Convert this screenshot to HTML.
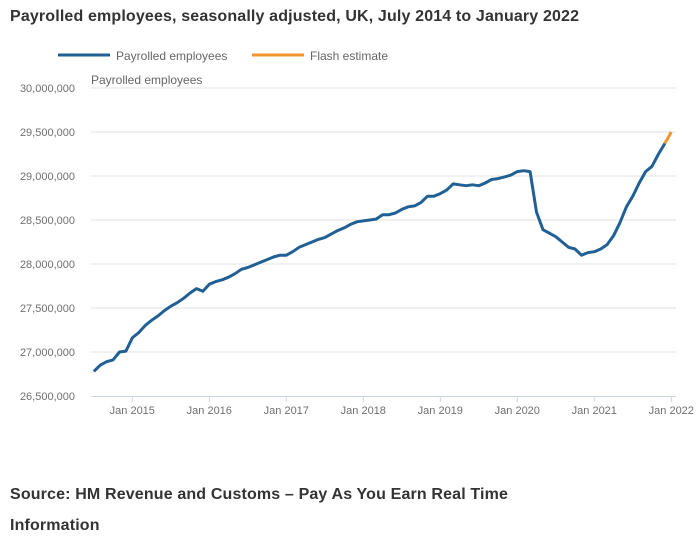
<!DOCTYPE html>
<html><head><meta charset="utf-8"><style>
body{margin:0;background:#fff;font-family:"Liberation Sans",sans-serif;}
#wrap{position:relative;width:696px;height:546px;overflow:hidden}
.t{position:absolute;color:#333;font-weight:bold;font-size:16px;letter-spacing:0.15px}
</style></head><body><div id="wrap">
<div class="t" style="left:10px;top:8px">Payrolled employees, seasonally adjusted, UK, July 2014 to January 2022</div>
<svg id="svg" width="696" height="546" style="position:absolute;left:0;top:0"></svg>
<div class="t" style="left:10px;top:486px">Source: HM Revenue and Customs – Pay As You Earn Real Time</div>
<div class="t" style="left:10px;top:517px">Information</div>
</div>
<script>
const yTicks=[26500000,27000000,27500000,28000000,28500000,29000000,29500000,30000000];
const xTickLabels=["Jan 2015","Jan 2016","Jan 2017","Jan 2018","Jan 2019","Jan 2020","Jan 2021","Jan 2022"];
const xTickMonths=[6,18,30,42,54,66,78,90];
const payrolled=[26.78,26.85,26.89,26.91,27.00,27.01,
27.16,27.22,27.30,27.36,27.41,27.47,27.52,27.56,27.61,27.67,27.72,27.69,
27.77,27.80,27.82,27.85,27.89,27.94,27.96,27.99,28.02,28.05,28.08,28.10,
28.10,28.14,28.19,28.22,28.25,28.28,28.30,28.34,28.38,28.41,28.45,28.48,
28.49,28.50,28.51,28.56,28.56,28.58,28.62,28.65,28.66,28.70,28.77,28.77,
28.80,28.84,28.91,28.90,28.89,28.90,28.89,28.92,28.96,28.97,28.99,29.01,
29.05,29.06,29.05,28.59,28.39,28.35,28.31,28.25,28.19,28.17,28.10,28.13,
28.14,28.17,28.22,28.32,28.47,28.65,28.77,28.92,29.05,29.11,29.25,29.37];
const flashMonths=[89,90];
const flashValues=[29.37,29.50];
const svg=document.getElementById('svg');const NS='http://www.w3.org/2000/svg';
const x=m=>93.8+m*77/12;
const y=v=>396-(v-26500000)/500000*44;
function mk(t,a,txt){const e=document.createElementNS(NS,t);for(const k in a)e.setAttribute(k,a[k]);if(txt!=null)e.textContent=txt;svg.appendChild(e);return e;}
yTicks.forEach((v,i)=>{
 if(i>0){const g=mk('line',{x1:91,x2:676,y1:y(v),y2:y(v),stroke:'#e2e2e2','stroke-width':1});
 
 }
 const t=mk('text',{x:75,y:y(v)+4,'text-anchor':'end','font-size':11,fill:'#707070'},v.toLocaleString('en-GB'));
 
 
});
const ax=mk('line',{x1:91,x2:676,y1:396.5,y2:396.5,stroke:'#ccd6eb','stroke-width':1});


xTickMonths.forEach((m,i)=>{
 const tk=mk('line',{x1:x(m),x2:x(m),y1:396,y2:402,stroke:'#ccd6eb'});
 
 
 const t=mk('text',{x:x(m),y:414,'text-anchor':'middle','font-size':11,fill:'#707070'},xTickLabels[i]);
 
 
});
const at=mk('text',{x:91,y:84,'font-size':12,fill:'#666'},'Payrolled employees');


const p1=mk('path',{d:payrolled.map((v,i)=>(i?'L':'M')+x(i).toFixed(1)+','+y(v*1e6).toFixed(1)).join(''),fill:'none',stroke:'#206095','stroke-width':3,'stroke-linejoin':'round'});


const p2=mk('path',{d:flashMonths.map((m,i)=>(i?'L':'M')+x(m).toFixed(1)+','+y(flashValues[i]*1e6).toFixed(1)).join(''),fill:'none',stroke:'#f39431','stroke-width':3});


const l1=mk('line',{x1:58,x2:110,y1:55,y2:55,stroke:'#206095','stroke-width':3});


const lt1=mk('text',{x:116,y:60,'font-size':12,fill:'#666'},'Payrolled employees');


const l2=mk('line',{x1:252,x2:304,y1:55,y2:55,stroke:'#f39431','stroke-width':3});


const lt2=mk('text',{x:310,y:60,'font-size':12,fill:'#666'},'Flash estimate');


</script></body></html>
